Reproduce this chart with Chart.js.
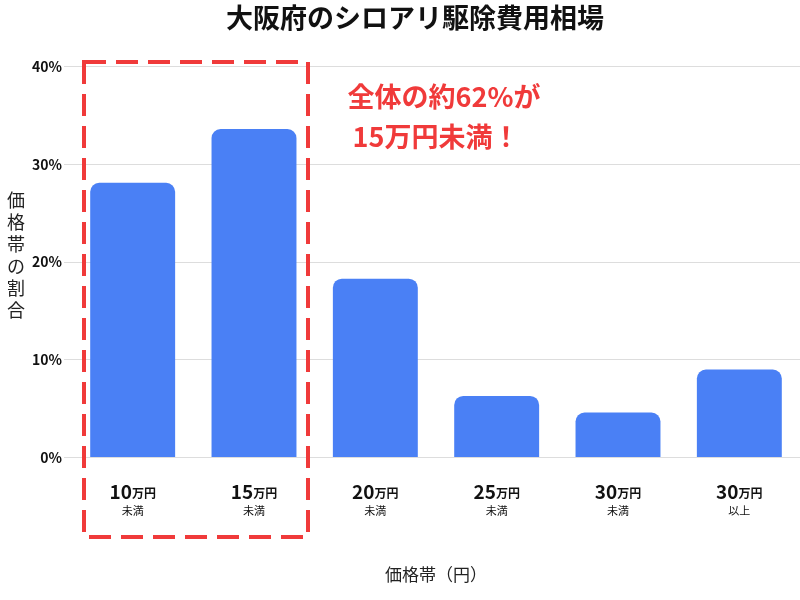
<!DOCTYPE html>
<html lang="ja">
<head>
<meta charset="UTF-8">
<title>大阪府のシロアリ駆除費用相場</title>
<style>
  body { margin: 0; background: #fff; }
  #wrap { width: 800px; height: 600px; }
</style>
</head>
<body>
<div id="wrap"><canvas id="chart" width="800" height="600"></canvas></div>
<script src="https://cdn.jsdelivr.net/npm/chart.js"></script>
<script>
  // data
  const priceNum = ["10", "15", "20", "25", "30", "30"];
  const priceSub = ["未満", "未満", "未満", "未満", "未満", "以上"];
  const shares = [28.1, 33.6, 18.3, 6.3, 4.6, 9.0];
  const yTicks = [0, 10, 20, 30, 40];

  const FONT = "'Noto Sans CJK JP', 'Noto Sans', sans-serif";

  // custom text + dashed highlight box
  const decor = {
    id: 'decor',
    afterDraw(chart) {
      const ctx = chart.ctx;
      const x = chart.scales.x;
      ctx.save();
      // category labels
      for (let i = 0; i < priceNum.length; i++) {
        const cx = x.getPixelForValue(i);
        ctx.font = "bold 19px " + FONT;
        const w1 = ctx.measureText(priceNum[i]).width;
        ctx.font = "bold 12px " + FONT;
        const w2 = ctx.measureText("万円").width;
        let sx = cx - (w1 + w2) / 2;
        ctx.fillStyle = "#111";
        ctx.textBaseline = "alphabetic";
        ctx.textAlign = "left";
        ctx.font = "bold 19px " + FONT;
        ctx.fillText(priceNum[i], sx, 499);
        ctx.font = "bold 12px " + FONT;
        ctx.fillText("万円", sx + w1, 498);
        ctx.textAlign = "center";
        ctx.font = "11px " + FONT;
        ctx.fillText(priceSub[i], cx, 515);
      }
      // y title, upright characters
      ctx.font = "18px " + FONT;
      ctx.textAlign = "center";
      ctx.textBaseline = "middle";
      ctx.fillStyle = "#222";
      const yt = "価格帯の割合";
      for (let k = 0; k < yt.length; k++) ctx.fillText(yt[k], 16, 200 + k * 22);
      // dashed box
      ctx.strokeStyle = "#f03a3a";
      ctx.lineWidth = 4;
      ctx.setLineDash([22, 10]);
      ctx.strokeRect(84, 62, 224, 475);
      ctx.setLineDash([]);
      // callout
      ctx.fillStyle = "#f03a3a";
      ctx.font = "bold 27px " + FONT;
      ctx.fillText("全体の約62%が", 444, 97);
      ctx.fillText("15万円未満！", 436, 137);
      ctx.restore();
    }
  };

  new Chart(document.getElementById("chart"), {
    type: 'bar',
    data: {
      labels: priceNum.map((n, i) => n + "万円" + priceSub[i]),
      datasets: [{
        data: shares,
        backgroundColor: "#4a80f5",
        borderRadius: { topLeft: 9, topRight: 9 },
        borderSkipped: 'bottom',
        barPercentage: 0.7,
        categoryPercentage: 1
      }]
    },
    options: {
      responsive: false,
      animation: false,
      layout: { padding: { left: 30, right: 0, top: 0, bottom: 0 } },
      plugins: {
        legend: { display: false },
        tooltip: { enabled: false },
        title: {
          display: true,
          text: "大阪府のシロアリ駆除費用相場",
          color: "#111",
          font: { family: FONT, size: 27, weight: 'bold' },
          padding: { top: 2, bottom: 32 }
        }
      },
      scales: {
        x: {
          grid: { display: false },
          border: { display: false },
          ticks: { display: false },
          title: {
            display: true,
            text: "価格帯（円）",
            color: "#222",
            font: { family: FONT, size: 17 },
            padding: { top: 99, bottom: 15 }
          }
        },
        y: {
          min: 0, max: 40,
          afterBuildTicks(s) { s.ticks = yTicks.map(v => ({ value: v })); },
          border: { display: false },
          grid: { color: "#dddddd" },
          ticks: {
            color: "#111",
            font: { family: FONT, size: 14, weight: 'bold' },
            padding: 2,
            callback: v => v + "%"
          }
        }
      }
    },
    plugins: [decor]
  });
</script>
</body>
</html>
